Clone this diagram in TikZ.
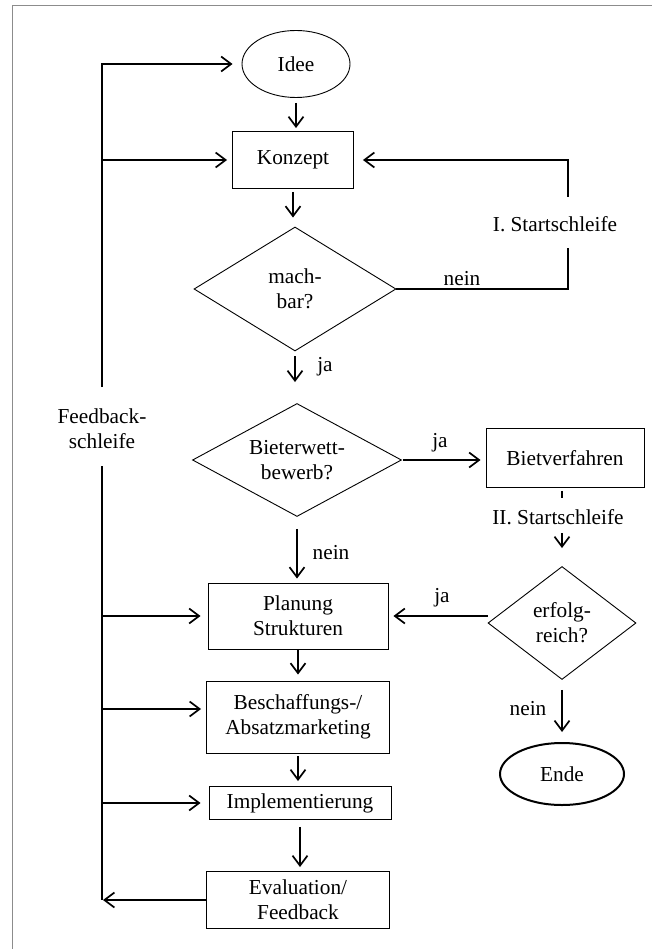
\documentclass[tikz,border=0pt]{standalone}
\usepackage{fontspec}
\setmainfont{Liberation Serif}
\usepackage{xcolor}
\usepackage{tikz}
\usetikzlibrary{arrows.meta, positioning, shapes.geometric}
\definecolor{framegray}{HTML}{8C8C8C}

\begin{document}
\begin{tikzpicture}[
  x=1pt, y=-1pt,
  every node/.style={font=\fontsize{21.3}{25}\selectfont, align=center},
  box/.style={rectangle, draw, line width=0.9pt, inner sep=0pt},
  dec/.style={diamond, draw, line width=0.9pt, inner sep=0pt},
  term/.style={ellipse, draw, inner sep=0pt},
  lbl/.style={inner sep=0pt},
  conn/.style={line width=1.7pt},
  arr/.style={conn, -{Straight Barb[length=10pt, width=15pt]}},
]
  \useasboundingbox (0,0) rectangle (652,949);
  \draw[framegray, line width=1pt] (12,949) -- (12,6) -- (652,6);

  \node[term, line width=0.9pt, minimum width=108pt, minimum height=67pt] (idee) at (296,64) {Idee};
  \node[box, minimum width=121pt, minimum height=57pt] (konzept) at (293,160) {Konzept};
  \node[dec, aspect=1.63, minimum width=202pt, minimum height=124pt] (machbar) at (295,289) {mach-\\bar?};
  \node[dec, aspect=1.85, minimum width=209pt, minimum height=113pt] (bieter) at (297,460) {Bieterwett-\\bewerb?};
  \node[box, minimum width=158pt, minimum height=59pt] (bietv) at (565,458) {Bietverfahren};
  \node[dec, aspect=1.31, minimum width=148pt, minimum height=113pt] (erfolg) at (562,623) {erfolg-\\reich?};
  \node[term, line width=2pt, minimum width=124pt, minimum height=62pt] (ende) at (562,774) {Ende};
  \node[box, minimum width=180pt, minimum height=66pt] (planung) at (298,616) {Planung\\Strukturen};
  \node[box, minimum width=183pt, minimum height=72pt] (besch) at (298,717) {Beschaffungs-/\\Absatzmarketing};
  \node[box, minimum width=182pt, minimum height=33pt] (impl) at (300,803) {Implementierung};
  \node[box, minimum width=183pt, minimum height=57pt] (eval) at (298,900) {Evaluation/\\Feedback};

  \draw[arr, shorten <=5pt, shorten >=3pt] (idee.south) -- (idee.south |- konzept.north);
  \draw[arr, shorten <=3pt, shorten >=9pt] (konzept.south) -- (konzept.south |- machbar.north);
  \draw[arr, shorten <=5pt, shorten >=21pt] (machbar.south) -- (machbar.south |- bieter.north);
  \draw[arr, shorten <=12pt, shorten >=4pt] (bieter.south) -- (bieter.south |- planung.north);
  \draw[arr, shorten <=1pt, shorten >=6pt] (planung.south) -- (planung.south |- besch.north);
  \draw[arr, shorten <=3pt, shorten >=5pt] (besch.south) -- (besch.south |- impl.north);
  \draw[arr, shorten <=7pt, shorten >=4pt] (impl.south) -- (impl.south |- eval.north);
  \draw[arr, shorten <=1pt, shorten >=5pt] (bieter.east) -- (bieter.east -| bietv.west);
  \draw[arr, shorten >=5pt] (planung.east -| erfolg.west) -- (planung.east);
  \draw[arr, shorten <=10pt, shorten >=10pt] (erfolg.south) -- (ende.north);

  \node[lbl] (start1) at (555,224) {I. Startschleife};
  \coordinate (s1a) at (568,248);
  \coordinate (s1b) at (568,197);
  \draw[conn] (machbar.east) -| (s1a);
  \draw[arr, shorten >=9pt] (s1b) |- (konzept.east);

  \node[lbl] (start2) at (558,517) {II. Startschleife};
  \coordinate (s2a) at (562,498);
  \coordinate (s2b) at (562,533);
  \draw[conn, shorten <=3pt] (erfolg.north |- bietv.south) -- (s2a);
  \draw[arr, shorten >=18pt] (s2b) -- (erfolg.north);

  \node (fb) at (102,429) {Feedback-\\schleife};
  \coordinate (fbx) at (102,0);
  \coordinate (fba) at (102,387);
  \coordinate (fbb) at (102,466);
  \coordinate (beschin) at ([yshift=8pt]besch.west);
  \draw[arr, shorten >=9pt] (fba) |- (idee.west);
  \draw[conn] (fbb) -- (eval.west -| fbx);
  \draw[arr, shorten >=5pt] (konzept.west -| fbx) -- (konzept.west);
  \draw[arr, shorten >=7pt] (planung.west -| fbx) -- (planung.west);
  \draw[arr, shorten >=5pt] (beschin -| fbx) -- (beschin);
  \draw[arr, shorten >=8pt] (impl.west -| fbx) -- (impl.west);
  \draw[arr, shorten >=1pt] (eval.west) -- (eval.west -| fbx);

  \node[lbl] (nein1) at (462,279) {nein};
  \node[lbl] (ja1) at (325,367) {ja};
  \node[lbl] (ja2) at (440,443) {ja};
  \node[lbl] (nein2) at (331,553) {nein};
  \node[lbl] (ja3) at (442,598) {ja};
  \node[lbl] (nein3) at (528,709) {nein};
\end{tikzpicture}
\end{document}
